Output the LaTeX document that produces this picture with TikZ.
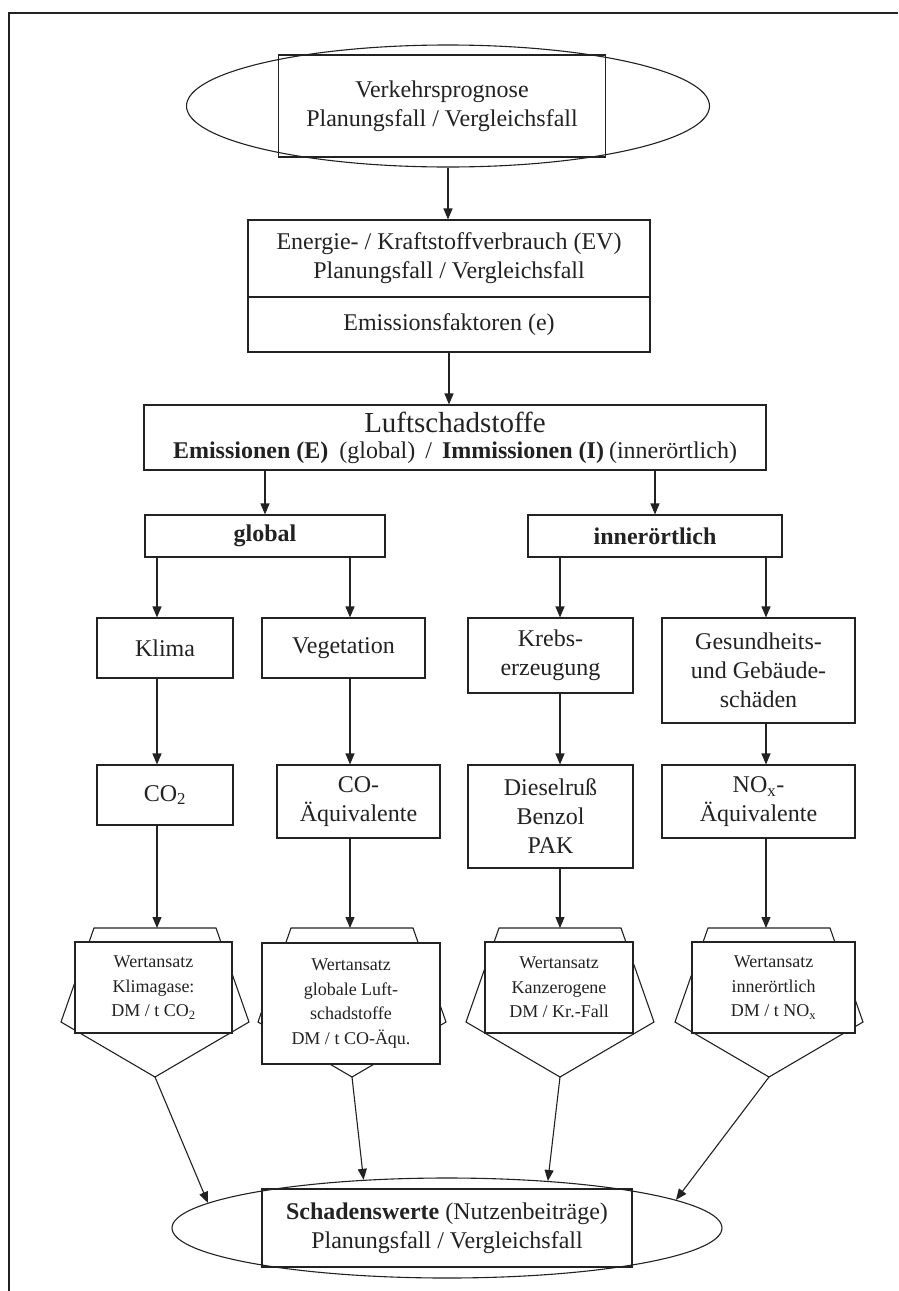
\documentclass[tikz,border=0pt]{standalone}
\usepackage{fontspec}
\setmainfont{Liberation Serif}
\usetikzlibrary{arrows.meta,shapes.geometric,calc}
\definecolor{ink}{HTML}{222222}
\begin{document}
\begin{tikzpicture}[x=1pt,y=-1pt,
  ln/.style={draw=ink,line width=1.1pt},
  bx/.style={ln,rectangle,inner sep=0pt,align=center,text=ink,font=\fontsize{24}{29}\selectfont},
  sm/.style={bx,fill=white,font=\fontsize{18}{24.5}\selectfont},
  oval/.style={ln,ellipse,inner sep=0pt},
  arr/.style={ln,-{Triangle[length=11pt,width=9pt]}},
]
\useasboundingbox (0,0) rectangle (898,1291);
\fill[white] (0,0) rectangle (898,1291);
\draw[ln,line width=1.4pt] (9,1291) -- (9,13) -- (898,13);

% top
\node[oval,minimum width=523pt,minimum height=122pt] (topE) at (448,106) {};
\node[bx,minimum width=327pt,minimum height=102pt] (topR) at (442,106) {Verkehrsprognose\\Planungsfall / Vergleichsfall};

\node[bx,minimum width=402pt,minimum height=77pt] (ev) at (449,258.5) {Energie- / Kraftstoffverbrauch (EV)\\Planungsfall / Vergleichsfall};
\node[bx,minimum width=402pt,minimum height=55pt] (ef) at (449,324.5) {Emissionsfaktoren (e)};

\node[bx,minimum width=622pt,minimum height=65pt] (luft) at (455,437.5) {{\fontsize{29}{30}\selectfont Luftschadstoffe}\\[-3pt]\textbf{Emissionen (E)}\hspace{11pt}(global)\hspace{10pt}/\hspace{10pt}\textbf{Immissionen (I)}\hspace{5pt}(innerörtlich)};

\node[bx,minimum width=240pt,minimum height=42pt] (glob) at (265,536) {\textbf{global}};
\node[bx,minimum width=254pt,minimum height=42pt] (inner) at (655,536) {\textbf{innerörtlich}};

\coordinate (c1) at (157,0);
\coordinate (c2) at (350,0);
\coordinate (c3) at (560,0);
\coordinate (c4) at (766,0);

\node[bx,minimum width=136pt,minimum height=60pt] (klima) at (165,648) {Klima};
\node[bx,minimum width=163pt,minimum height=60pt] (veg) at (343.5,648) {Vegetation};
\node[bx,minimum width=165pt,minimum height=75pt] (krebs) at (550.5,655.5) {Krebs-\\erzeugung};
\node[bx,minimum width=193pt,minimum height=105pt] (gesund) at (758.5,670.5) {Gesundheits-\\und Gebäude-\\schäden};

\node[bx,minimum width=136pt,minimum height=60pt] (co2) at (165,795) {CO\textsubscript{2}};
\node[bx,minimum width=163pt,minimum height=73pt] (coa) at (358.5,801.5) {CO-\\Äquivalente};
\node[bx,minimum width=165pt,minimum height=103pt] (diesel) at (550.5,816.5) {Dieselruß\\Benzol\\PAK};
\node[bx,minimum width=193pt,minimum height=73pt] (nox) at (758.5,801.5) {NO\textsubscript{x}-\\Äquivalente};

% pentagons behind value boxes
\foreach \cx/\i in {155/1,352/2,560/3,769/4}{
  \draw[ln,fill=white] (\cx-61,928) coordinate (top\i) -- (\cx+61,928) -- (\cx+94,1022) -- (\cx,1077) coordinate (tip\i) -- (\cx-94,1022) -- cycle;
}

\node[sm,minimum width=157pt,minimum height=91pt] (w1) at (153.5,987.5) {Wertansatz\\Klimagase:\\DM / t CO\textsubscript{2}};
\node[sm,minimum width=178pt,minimum height=121pt] (w2) at (351,1003.5) {Wertansatz\\globale Luft-\\schadstoffe\\DM / t CO-Äqu.};
\node[sm,minimum width=148pt,minimum height=91pt] (w3) at (559,987.5) {Wertansatz\\Kanzerogene\\DM / Kr.-Fall};
\node[sm,minimum width=163pt,minimum height=91pt] (w4) at (773.5,987.5) {Wertansatz\\innerörtlich\\DM / t NO\textsubscript{x}};

% bottom
\node[oval,minimum width=550pt,minimum height=100pt] (botE) at (447,1228) {};
\node[bx,minimum width=370pt,minimum height=78pt] (botR) at (447,1228) {\textbf{Schadenswerte} (Nutzenbeiträge)\\Planungsfall / Vergleichsfall};

% connectors
\draw[arr] (topE.south) -- (topE.south |- ev.north);
\draw[arr] (ef.south) -- (ef.south |- luft.north);
\draw[arr] (glob.north |- luft.south) -- (glob.north);
\draw[arr] (inner.north |- luft.south) -- (inner.north);

\draw[arr] (c1 |- glob.south) -- (c1 |- klima.north);
\draw[arr] (c2 |- glob.south) -- (c2 |- veg.north);
\draw[arr] (c3 |- inner.south) -- (c3 |- krebs.north);
\draw[arr] (c4 |- inner.south) -- (c4 |- gesund.north);

\draw[arr] (c1 |- klima.south) -- (c1 |- co2.north);
\draw[arr] (c2 |- veg.south) -- (c2 |- coa.north);
\draw[arr] (c3 |- krebs.south) -- (c3 |- diesel.north);
\draw[arr] (c4 |- gesund.south) -- (c4 |- nox.north);

\draw[arr] (c1 |- co2.south) -- (c1 |- top1);
\draw[arr] (c2 |- coa.south) -- (c2 |- top2);
\draw[arr] (c3 |- diesel.south) -- (c3 |- top3);
\draw[arr] (c4 |- nox.south) -- (c4 |- top4);

\draw[arr] (tip1) -- (botE.174);
\draw[arr] (tip2) -- (botE.150);
\draw[arr] (tip3) -- (botE.25);
\draw[arr] (tip4) -- (botE.7);
\end{tikzpicture}
\end{document}
